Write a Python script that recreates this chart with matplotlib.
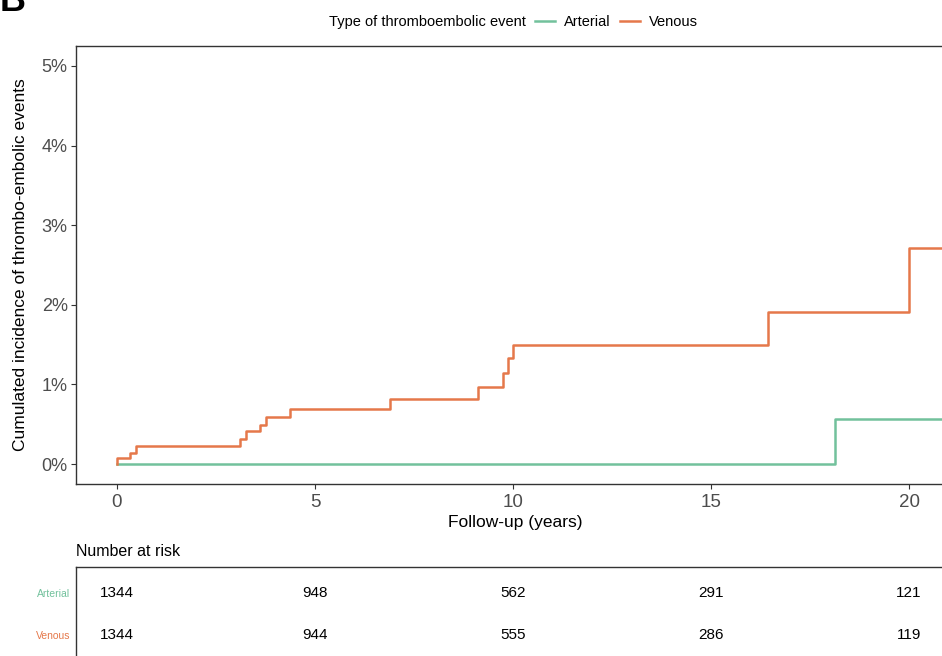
import matplotlib
matplotlib.use("Agg")
import matplotlib.pyplot as plt
from matplotlib.ticker import FuncFormatter

plt.rcParams['font.family'] = ['Liberation Sans', 'DejaVu Sans']

# ---- data ----
venous_t = [0, 0.0, 0.33, 0.47, 3.11, 3.25, 3.61, 3.75, 4.37, 6.89, 9.11, 9.74, 9.88, 10.01, 16.45, 20.0, 21.6]
venous_v = [0, 0.075, 0.145, 0.229, 0.317, 0.413, 0.49, 0.588, 0.688, 0.817, 0.971, 1.146, 1.33, 1.497, 1.91, 2.71, 2.71]
arterial_t = [0, 18.13, 21.6]
arterial_v = [0, 0.563, 0.563]

groups = ["Arterial", "Venous"]
colors = {"Arterial": "#72C19C", "Venous": "#E5784A"}
risk_times = [0, 5, 10, 15, 20]
risk_arterial = [1344, 948, 562, 291, 121]
risk_venous = [1344, 944, 555, 286, 119]
x_ticks = [0, 5, 10, 15, 20]
y_ticks = [0, 1, 2, 3, 4, 5]

W, H = 942, 656
fig = plt.figure(figsize=(W / 100, H / 100), dpi=100)

def fx(px):
    return px / W

def fy(py):
    return 1 - py / H

xlim = (-1.035, 21.74)
L, R = 76, 978
top, bot = 46, 484
ax = fig.add_axes([fx(L), fy(bot), (R - L) / W, (bot - top) / H])
la, = ax.step(arterial_t, arterial_v, where='post', color=colors["Arterial"], lw=1.8, label="Arterial")
lv, = ax.step(venous_t, venous_v, where='post', color=colors["Venous"], lw=1.8, label="Venous")
ax.set_xlim(*xlim)
ax.set_ylim(-0.25, 5.25)
ax.set_xticks(x_ticks)
ax.set_yticks(y_ticks)
ax.yaxis.set_major_formatter(FuncFormatter(lambda v, p: f"{int(v)}%"))
ax.tick_params(axis='both', colors='#333333', labelcolor='#4D4D4D', labelsize=13, length=3.5, width=0.8)
ax.tick_params(axis='x', labelsize=13.5, pad=4)
ax.tick_params(axis='y', pad=2.5)
for s in ax.spines.values():
    s.set_color('#333333')
    s.set_linewidth(1.0)
ax.set_ylabel("Cumulated incidence of thrombo-embolic events", fontsize=12.5, color='black')
ax.yaxis.set_label_coords((28 - L) / (R - L), 0.5)
ax.set_xlabel("Follow-up (years)", fontsize=12.5, color='black')
ax.xaxis.set_label_coords((515 - L) / (R - L), -(515 - bot) / (bot - top))

# legend
fig.text(fx(526), fy(22), "Type of thromboembolic event", ha='right', va='center', fontsize=10.5)
fig.legend(handles=[la, lv], labels=groups, ncol=2, loc='center left',
           bbox_to_anchor=(fx(535), fy(22)), bbox_transform=fig.transFigure,
           frameon=False, fontsize=10.5, handlelength=1.4, handletextpad=0.6,
           columnspacing=0.6, borderpad=0, borderaxespad=0)

# panel label (partly cut by the top edge, as in the reference)
fig.text(fx(0), fy(11), "B", ha='left', va='baseline', fontsize=26, fontweight='bold')

# number at risk table
fig.text(fx(76), fy(551), "Number at risk", ha='left', va='center', fontsize=11.5)
ttop, tbot = 567, 677
axt = fig.add_axes([fx(L), fy(tbot), (R - L) / W, (tbot - ttop) / H])
axt.set_xlim(*xlim)
axt.set_ylim(3.0, 0.381)
for i, (g, vals) in enumerate(zip(groups, [risk_arterial, risk_venous])):
    for t, n in zip(risk_times, vals):
        axt.text(t, i + 1, str(n), ha='center', va='center', fontsize=11, color='black')
axt.set_yticks([1, 2])
axt.set_yticklabels(groups, fontsize=7.5)
for lab, g in zip(axt.get_yticklabels(), groups):
    lab.set_color(colors[g])
axt.tick_params(axis='y', length=0, pad=4)
axt.set_xticks([])
for s in axt.spines.values():
    s.set_color('#333333')
    s.set_linewidth(1.0)

fig.savefig("out.png", dpi=100)
